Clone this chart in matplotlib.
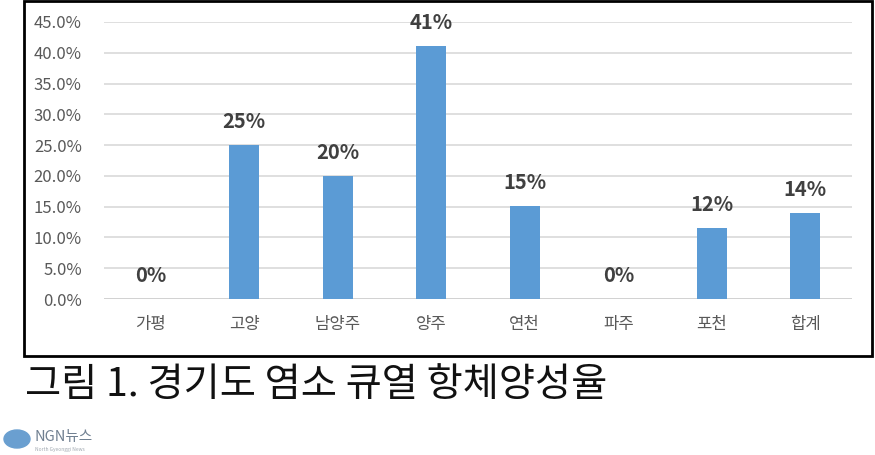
import matplotlib.pyplot as plt
from matplotlib.patches import Rectangle, Ellipse
from matplotlib.ticker import FuncFormatter

plt.rcParams['font.family'] = ['Noto Sans CJK KR', 'DejaVu Sans']

# 지역별 항체양성율 (%)
regions = ['가평', '고양', '남양주', '양주', '연천', '파주', '포천', '합계']
rates = [0, 25.0, 20.0, 41.1, 15.1, 0, 11.6, 14.0]
labels = ['0%', '25%', '20%', '41%', '15%', '0%', '12%', '14%']
yticks = [0, 5, 10, 15, 20, 25, 30, 35, 40, 45]

fig = plt.figure(figsize=(8.75, 4.55), dpi=100)

# 차트 테두리
fig.patches.append(Rectangle((24 / 875, 1 - 356 / 455), 848 / 875, 355 / 455,
                             transform=fig.transFigure, fill=False,
                             edgecolor='black', linewidth=2))

ax = fig.add_axes([104 / 875, 1 - 299 / 455, 748 / 875, 277 / 455])
x = range(len(regions))
ax.bar(x, rates, width=0.32, color='#5B9BD5', zorder=3)
for i, (v, t) in enumerate(zip(rates, labels)):
    ax.text(i, v + 2.1, t, ha='center', va='bottom', fontsize=14.5,
            fontweight='bold', color='#404040')

ax.set_xlim(-0.5, len(regions) - 0.5)
ax.set_ylim(0, 45)
ax.set_yticks(yticks)
ax.yaxis.set_major_formatter(FuncFormatter(lambda v, p: f'{v:.1f}%'))
ax.set_xticks(list(x))
ax.set_xticklabels(regions)
ax.tick_params(axis='both', length=0, labelsize=12, labelcolor='#595959')
ax.tick_params(axis='x', pad=12)
ax.tick_params(axis='y', pad=16)
ax.grid(axis='y', color='#D9D9D9', linewidth=1.2, zorder=0)
for s in ax.spines.values():
    s.set_visible(False)
ax.axhline(0, color='#D0D0D0', linewidth=1.2, zorder=2)

# 캡션
fig.text(25 / 875, 1 - 385 / 455, '그림 1. 경기도 염소 큐열 항체양성율',
         fontsize=28.3, color='#111111', va='center', ha='left')

# 로고
fig.patches.append(Ellipse((17 / 875, 1 - 439 / 455), 26 / 875, 18 / 455,
                           transform=fig.transFigure, color='#6A9FD0'))
fig.text(35 / 875, 1 - 437 / 455, 'NGN뉴스', fontsize=10.5, color='#6F7F90',
         va='center', ha='left')
fig.text(35 / 875, 1 - 450 / 455, 'North Gyeonggi News', fontsize=3.5,
         color='#A0A8B0', va='center', ha='left')

fig.savefig('out.png', dpi=100, facecolor='white')
